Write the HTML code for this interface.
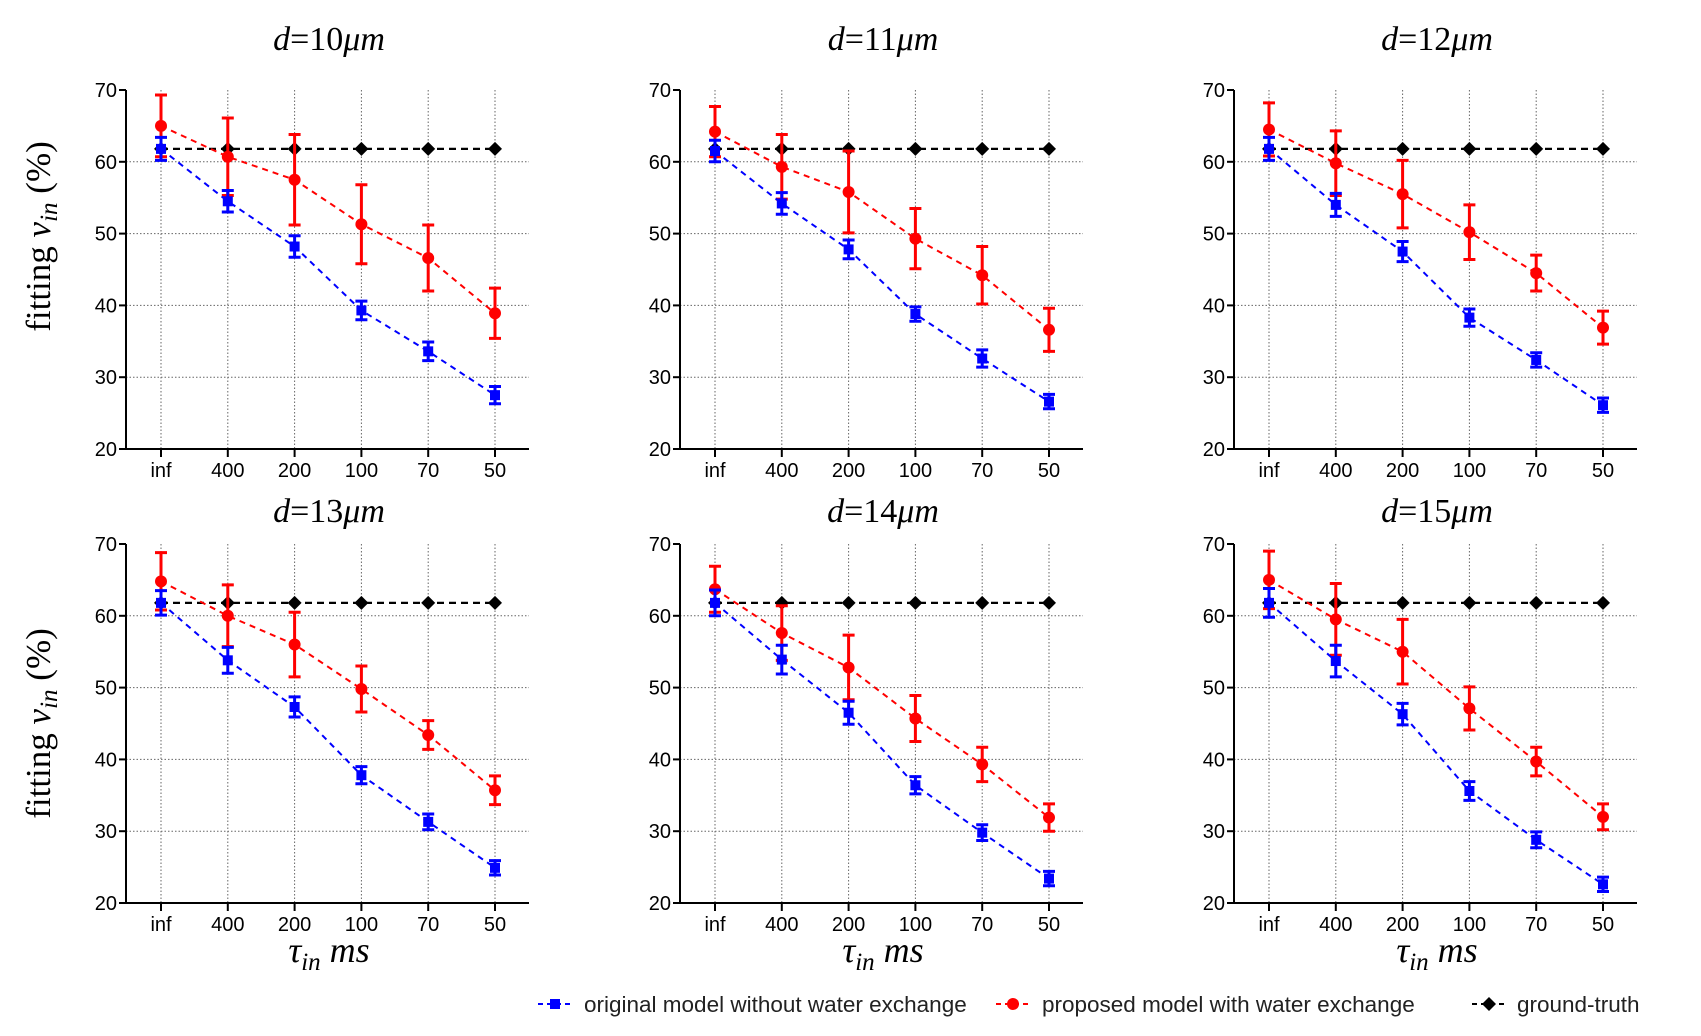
<!DOCTYPE html>
<html><head><meta charset="utf-8"><style>
body{margin:0;background:#fff;width:1701px;height:1036px;overflow:hidden}
svg{display:block}
</style></head><body>
<svg id="chart" width="1701" height="1036" xmlns="http://www.w3.org/2000/svg"></svg>
<script>
const categories = ["inf","400","200","100","70","50"];
const yTicks = [20,30,40,50,60,70];
const panelTitles = ["10","11","12","13","14","15"];
const groundTruth = 61.8;
const blue1 = [61.8,54.5,48.2,39.3,33.6,27.5];
const blue2 = [61.5,54.2,47.8,38.8,32.6,26.6];
const blue3 = [61.8,54.0,47.5,38.3,32.4,26.1];
const blue4 = [61.8,53.8,47.3,37.8,31.3,24.9];
const blue5 = [61.8,53.9,46.5,36.4,29.8,23.4];
const blue6 = [61.8,53.7,46.3,35.6,28.8,22.6];
const blueErr1 = [1.6,1.5,1.5,1.3,1.3,1.2];
const blueErr2 = [1.5,1.5,1.3,1.0,1.2,1.0];
const blueErr3 = [1.6,1.6,1.4,1.2,1.0,1.0];
const blueErr4 = [1.7,1.8,1.4,1.2,1.1,1.0];
const blueErr5 = [1.8,2.0,1.6,1.2,1.1,1.0];
const blueErr6 = [2.0,2.2,1.5,1.3,1.1,1.0];
const red1 = [65.0,60.7,57.5,51.3,46.6,38.9];
const red2 = [64.2,59.3,55.8,49.3,44.2,36.6];
const red3 = [64.5,59.8,55.5,50.2,44.5,36.9];
const red4 = [64.8,60.0,56.0,49.8,43.4,35.7];
const red5 = [63.7,57.6,52.8,45.7,39.3,31.9];
const red6 = [65.0,59.5,55.0,47.1,39.7,32.0];
const redErr1 = [4.3,5.4,6.3,5.5,4.6,3.5];
const redErr2 = [3.5,4.5,5.7,4.2,4.0,3.0];
const redErr3 = [3.7,4.5,4.7,3.8,2.5,2.3];
const redErr4 = [4.0,4.3,4.5,3.2,2.0,2.0];
const redErr5 = [3.2,3.8,4.5,3.2,2.4,1.9];
const redErr6 = [4.0,5.0,4.5,3.0,2.0,1.8];
const blues=[blue1,blue2,blue3,blue4,blue5,blue6];
const blueErrs=[blueErr1,blueErr2,blueErr3,blueErr4,blueErr5,blueErr6];
const reds=[red1,red2,red3,red4,red5,red6];
const redErrs=[redErr1,redErr2,redErr3,redErr4,redErr5,redErr6];

const svg=document.getElementById('chart');
const NS='http://www.w3.org/2000/svg';
function mk(tag,attrs,parent){const e=document.createElementNS(NS,tag);for(const k in attrs)e.setAttribute(k,attrs[k]);(parent||svg).appendChild(e);return e;}

const colX=[126,680,1234], rowY=[[90,449],[544,903]], titleY=[50,522], yTitleOff=[-33,0];
for(let p=0;p<6;p++){
  const col=p%3,row=Math.floor(p/3);
  const ax=colX[col], top=rowY[row][0], bot=rowY[row][1], right=ax+403;
  const g=mk('g',{});
  
  
  const xS=i=>ax+35+i*66.8;
  const yS=v=>bot-(v-20)*(bot-top)/50;
  yTicks.forEach(t=>{ if(t>20&&t<70){const l=mk('line',{x1:ax,x2:right,y1:yS(t),y2:yS(t),stroke:'#666','stroke-width':1,'stroke-dasharray':'1.5,2'},g);
    }});
  categories.forEach((c,i)=>{const l=mk('line',{x1:xS(i),x2:xS(i),y1:top,y2:bot,stroke:'#666','stroke-width':1,'stroke-dasharray':'1.5,2'},g);
    });
  const ya=mk('line',{x1:ax,x2:ax,y1:top,y2:bot,stroke:'#000','stroke-width':2},g);
  
  const xa=mk('line',{x1:ax,x2:right,y1:bot,y2:bot,stroke:'#000','stroke-width':2},g);
  
  yTicks.forEach(t=>{mk('line',{x1:ax-7,x2:ax,y1:yS(t),y2:yS(t),stroke:'#000','stroke-width':2},g);
    const tx=mk('text',{x:ax-9,y:yS(t)+7,'text-anchor':'end','font-family':'Liberation Sans, sans-serif','font-size':20},g);
    tx.textContent=t;});
  categories.forEach((c,i)=>{mk('line',{x1:xS(i),x2:xS(i),y1:bot,y2:bot+8,stroke:'#000','stroke-width':2},g);
    const tx=mk('text',{x:xS(i),y:bot+28,'text-anchor':'middle','font-family':'Liberation Sans, sans-serif','font-size':20},g);
    tx.textContent=c;});
  const tt=mk('text',{x:ax+203,y:titleY[row],'text-anchor':'middle','font-family':'Liberation Serif, serif','font-size':34},g);
  tt.innerHTML='<tspan font-style="italic">d</tspan>=10<tspan font-style="italic">μm</tspan>'.replace('10',panelTitles[p]);
  
  const gl=mk('line',{x1:xS(0),x2:xS(5),y1:yS(groundTruth),y2:yS(groundTruth),stroke:'#000','stroke-width':2.2,'stroke-dasharray':'7,5'},g);
  
  categories.forEach((c,i)=>{const d=mk('path',{d:`M${xS(i)},${yS(groundTruth)-7}l7,7l-7,7l-7,-7z`,fill:'#000'},g);
    });
  [[reds[p],redErrs[p],'#ff0000','ci','proposed-model'],[blues[p],blueErrs[p],'#0000ff','sq','original-model']].forEach(([vals,errs,col,shape,nm])=>{
    const pts=vals.map((v,i)=>xS(i)+','+yS(v)).join(' ');
    const pl=mk('polyline',{points:pts,fill:'none',stroke:col,'stroke-width':2,'stroke-dasharray':'6,5'},g);
    
    vals.forEach((v,i)=>{
      const x=xS(i),y1=yS(v+errs[i]),y2=yS(v-errs[i]);
      const eb=mk('path',{d:`M${x},${y1}V${y2}M${x-6},${y1}H${x+6}M${x-6},${y2}H${x+6}`,stroke:col,'stroke-width':3,fill:'none'},g);
      
      let m;
      if(shape==='sq') m=mk('rect',{x:x-5,y:yS(v)-5,width:10,height:10,fill:col},g);
      else m=mk('circle',{cx:x,cy:yS(v),r:6,fill:col},g);
      
    });
  });
  if(col===0){
    const cy=(top+bot)/2+yTitleOff[row];
    const yt=mk('text',{x:0,y:0,transform:`translate(50,${cy}) rotate(-90)`,'text-anchor':'middle','font-family':'Liberation Serif, serif','font-size':35},g);
    yt.innerHTML='fitting <tspan font-style="italic">v</tspan><tspan font-style="italic" font-size="25" dy="7">in</tspan><tspan dy="-7"> (%)</tspan>';
    
  }
  if(row===1){
    const xt=mk('text',{x:ax+203,y:962,'text-anchor':'middle','font-family':'Liberation Serif, serif','font-size':36,'font-style':'italic'},g);
    xt.innerHTML='τ<tspan font-size="25" dy="8">in</tspan><tspan dy="-8"> ms</tspan>';
    
  }
}
const lg=mk('g',{});


function legText(x,t){const e=mk('text',{x:x,y:1012,'font-family':'Liberation Sans, sans-serif','font-size':22.5,fill:'#222'},lg);e.textContent=t;}
mk('line',{x1:538,x2:572,y1:1004,y2:1004,stroke:'#0000ff','stroke-width':2,'stroke-dasharray':'5,4'},lg);
mk('rect',{x:550,y:999,width:10,height:10,fill:'#0000ff'},lg);
legText(584,'original model without water exchange');
mk('line',{x1:996,x2:1030,y1:1004,y2:1004,stroke:'#ff0000','stroke-width':2,'stroke-dasharray':'5,4'},lg);
mk('circle',{cx:1013,cy:1004,r:6,fill:'#ff0000'},lg);
legText(1042,'proposed model with water exchange');
mk('line',{x1:1472,x2:1506,y1:1004,y2:1004,stroke:'#000','stroke-width':2,'stroke-dasharray':'5,4'},lg);
mk('path',{d:'M1489,997l7,7l-7,7l-7,-7z',fill:'#000'},lg);
legText(1517,'ground-truth');
</script>
</body></html>
